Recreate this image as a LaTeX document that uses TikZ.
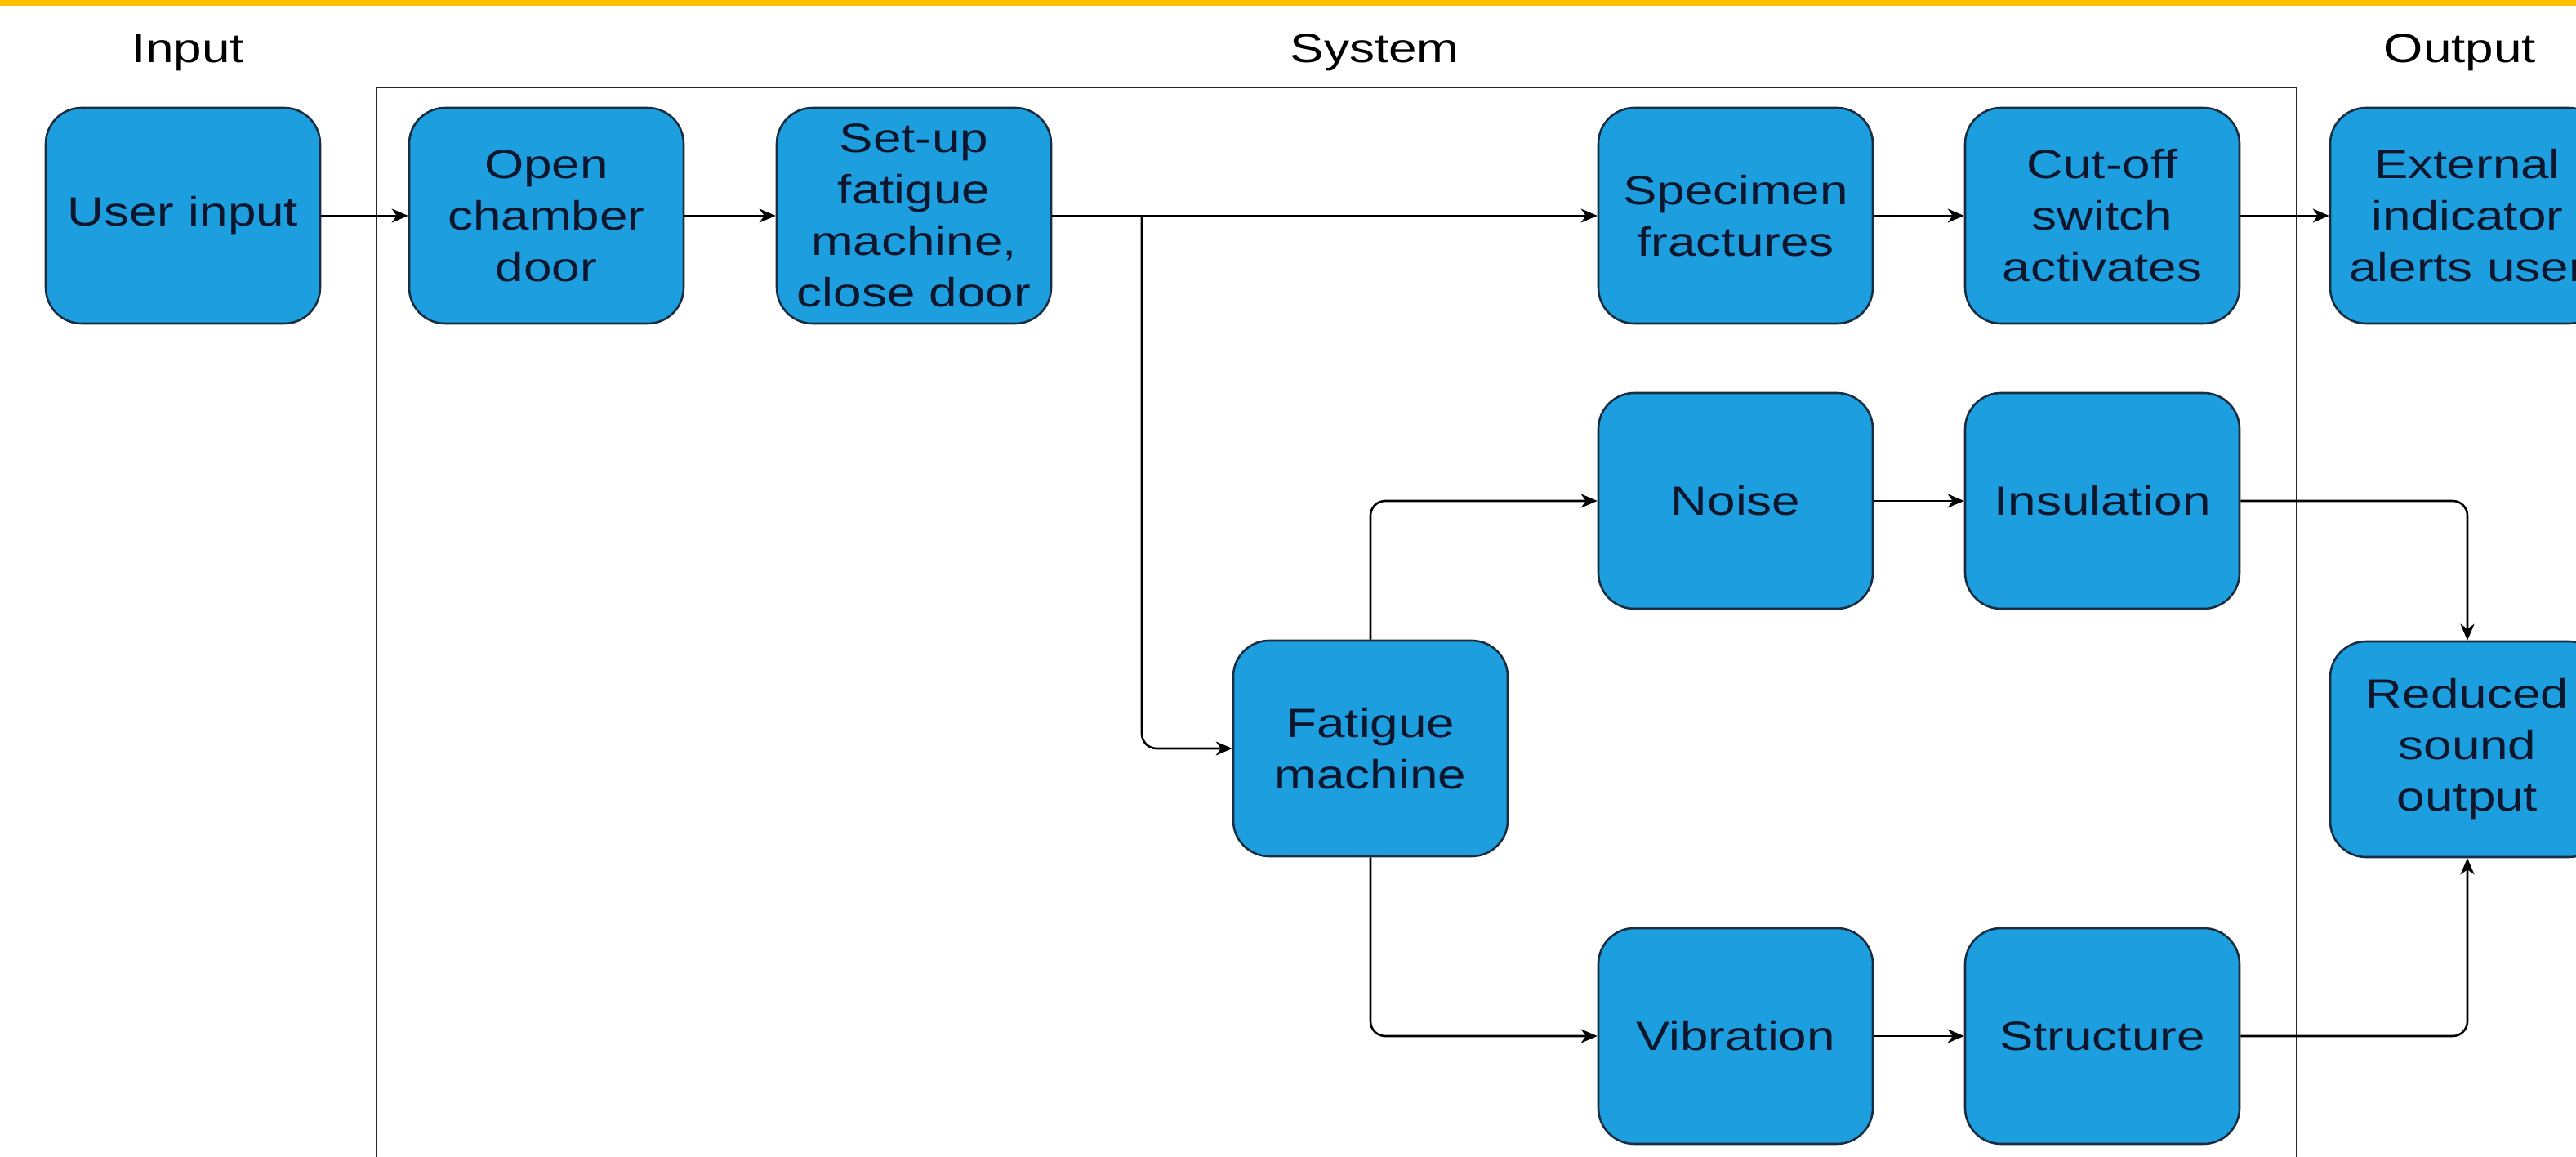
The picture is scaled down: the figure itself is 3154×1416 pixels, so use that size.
\documentclass[tikz,border=0pt]{standalone}
\usepackage{fontspec}
\setmainfont{Liberation Sans}[FakeStretch=1.24]
\usetikzlibrary{arrows.meta}
\definecolor{boxfill}{RGB}{29,158,222}
\definecolor{boxline}{RGB}{25,45,65}
\definecolor{boxtext}{RGB}{12,22,45}
\definecolor{topbar}{RGB}{255,192,0}
\begin{document}
\begin{tikzpicture}[x=0.5pt,y=-0.5pt,
  blk/.style={draw=boxline, line width=1.3pt, fill=boxfill, rounded corners=22pt,
    minimum width=168pt, minimum height=132pt, inner sep=0pt, align=center,
    text=boxtext, font=\fontsize{25pt}{31.5pt}\selectfont},
  ttl/.style={anchor=base, inner sep=0pt, font=\fontsize{25pt}{31.5pt}\selectfont, text=black},
  conn/.style={draw=black, line width=1.3pt, -{Stealth[length=10pt,width=8.5pt,inset=3pt]}, rounded corners=9pt},
  sysframe/.style={draw=black!85, line width=1.4pt}]
\useasboundingbox (0,0) rectangle (3154,1416);
\clip (0,0) rectangle (3154,1416);
\fill[topbar] (0,0) rectangle (3154,7);

% titles
\node[ttl] (tin) at (230,77) {Input};
\node[ttl] (tsys) at (1683,77) {System};
\node[ttl] (tout) at (3012,77) {Output};

% system frame (open at the bottom)
\draw[sysframe] (461,1440) -- (461,107) -- (2812,107) -- (2812,1440);

% boxes
\node[blk] (user) at (224,264) {User input};
\node[blk] (open) at (669,264) {Open\\chamber\\door};
\node[blk] (setup) at (1119,264) {Set-up\\fatigue\\machine,\\close door};
\node[blk] (spec) at (2125,264) {Specimen\\fractures};
\node[blk] (cut) at (2574,264) {Cut-off\\switch\\activates};
\node[blk] (ext) at (3021,264) {External\\indicator\\alerts user};
\node[blk] (noise) at (2125,613) {Noise};
\node[blk] (ins) at (2574,613) {Insulation};
\node[blk] (fat) at (1678,916) {Fatigue\\machine};
\node[blk] (red) at (3021,917) {Reduced\\sound\\output};
\node[blk] (vib) at (2125,1268) {Vibration};
\node[blk] (str) at (2574,1268) {Structure};

% connectors
\coordinate (br) at (1398,264);
\draw[conn] (user) -- (open);
\draw[conn] (open) -- (setup);
\draw[conn] (setup) -- (spec);
\draw[conn] (br) |- (fat.west);
\draw[conn] (spec) -- (cut);
\draw[conn] (cut) -- (ext);
\draw[conn] (fat.north) |- (noise.west);
\draw[conn] (fat.south) |- (vib.west);
\draw[conn] (noise) -- (ins);
\draw[conn] (vib) -- (str);
\draw[conn] (ins.east) -| (red.north);
\draw[conn] (str.east) -| (red.south);
\end{tikzpicture}
\end{document}
